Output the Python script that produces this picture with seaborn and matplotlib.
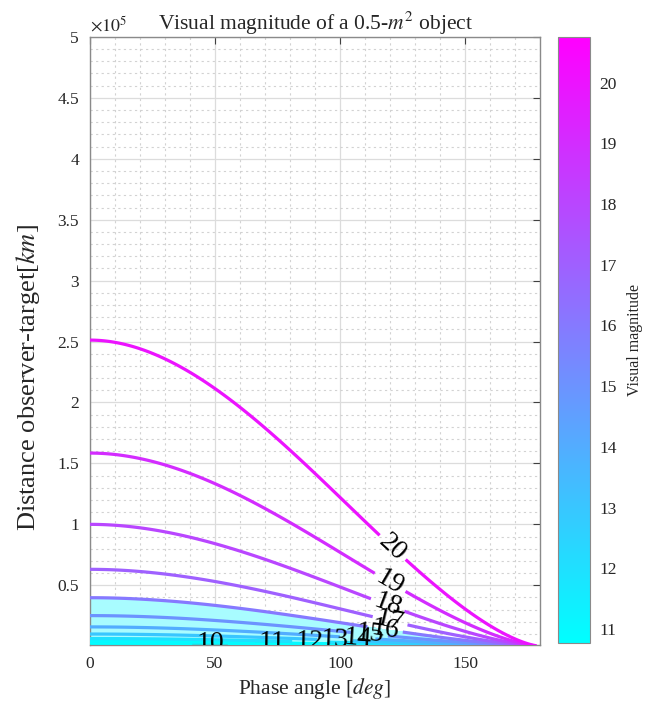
import numpy as np
import matplotlib
matplotlib.use("Agg")
import matplotlib.pyplot as plt
import matplotlib.ticker as mticker
from matplotlib.colors import Normalize
from matplotlib.cm import ScalarMappable
import seaborn as sns

# ---------------- data ----------------
contour_levels = [10, 11, 12, 13, 14, 15, 16, 17, 18, 19, 20]
label_phase_deg = [48, 73, 88, 98, 107, 112, 118, 120, 119, 120, 121]
ref_magnitude = 18.0          # magnitude at zero phase ...
ref_distance_km = 1.0e5       # ... at this distance
fill_levels = [12, 16]
color_limits = [10.77, 20.75]
colorbar_ticks = [11, 12, 13, 14, 15, 16, 17, 18, 19, 20]
y_ticks = [0.5e5, 1e5, 1.5e5, 2e5, 2.5e5, 3e5, 3.5e5, 4e5, 4.5e5, 5e5]
x_ticks = [0, 50, 100, 150]

# ---------------- style ----------------
sns.set_style("white")
plt.rcParams["font.family"] = ["Liberation Serif", "DejaVu Serif"]
plt.rcParams["mathtext.fontset"] = "stix"

cmap = sns.color_palette("cool", as_cmap=True)
norm = Normalize(vmin=color_limits[0], vmax=color_limits[1])


def lambert_phase(alpha_deg):
    a = np.radians(alpha_deg)
    return np.clip(((np.pi - a) * np.cos(a) + np.sin(a)) / np.pi, 1e-14, None)


def magnitude(alpha_deg, dist_km):
    return ref_magnitude + 5 * np.log10(dist_km / ref_distance_km) - 2.5 * np.log10(lambert_phase(alpha_deg))


def distance_for(level, alpha_deg):
    return ref_distance_km * 10 ** ((level - ref_magnitude + 2.5 * np.log10(lambert_phase(alpha_deg))) / 5)


phase = np.linspace(0, 180, 721)
dist = np.geomspace(300, 5e5, 1500)
P, D = np.meshgrid(phase, dist)
Z = magnitude(P, D)

fig = plt.figure(figsize=(6.59, 7.03), dpi=100)
ax = fig.add_axes([0.1366, 0.0825, 0.683, 0.865])
cax = fig.add_axes([0.8467, 0.0853, 0.0486, 0.862])

ax.set_xlim(0, 180)
ax.set_ylim(1000, 5e5)

# fill (light cyan region of the densely packed low-magnitude contours)
ax.contourf(P, D, Z, levels=[Z.min(), fill_levels[0], fill_levels[1]],
            colors=["#12e8f2", "#a8fcff"], zorder=1)

cs = ax.contour(P, D, Z, levels=contour_levels, cmap=cmap, norm=norm,
                linewidths=2.3, zorder=3)
label_positions = [(ph, distance_for(lvl, ph)) for lvl, ph in zip(contour_levels, label_phase_deg)]
ax.clabel(cs, inline=True, inline_spacing=4, fontsize=20, fmt="%d",
          colors="k", manual=label_positions)

ax.set_xlim(0, 180)
ax.set_ylim(1000, 5e5)
ax.set_xticks(x_ticks)
ax.set_yticks(y_ticks)
ax.yaxis.set_major_formatter(mticker.FuncFormatter(lambda v, p: f"{v / 1e5:g}"))
ax.xaxis.set_minor_locator(mticker.MultipleLocator(10))
ax.yaxis.set_minor_locator(mticker.MultipleLocator(1e4))
ax.grid(True, which="major", color="#dcdcdc", linewidth=0.9, linestyle="-", zorder=0)
ax.grid(True, which="minor", color="#d2d2d2", linewidth=0.8, linestyle=(0, (2, 3)), zorder=0)
ax.set_axisbelow(True)
ax.tick_params(which="major", direction="in", length=5, color="#404040",
               top=True, right=True, labelsize=12.5, labelcolor="#262626", pad=8)
ax.tick_params(which="minor", length=0)
for s in ax.spines.values():
    s.set_color("#8a8a8a")
    s.set_linewidth(1.0)

ax.text(0.0, 1.002, r"$\times10^5$", transform=ax.transAxes, fontsize=13,
        color="#262626", ha="left", va="bottom")
ax.set_title(r"Visual magnitude of a 0.5-$m^2$ object", fontsize=15.5, pad=5)
ax.set_xlabel(r"Phase angle [$deg$]", fontsize=15.5, labelpad=3)
ax.set_ylabel(r"Distance observer-target[$km$]", fontsize=19)
ax.yaxis.set_label_coords(-0.106, 0.44)

cb = fig.colorbar(ScalarMappable(norm=norm, cmap=cmap), cax=cax, ticks=colorbar_ticks)
cb.outline.set_edgecolor("#8a8a8a")
cb.ax.tick_params(direction="in", length=5, color="#404040", labelsize=12.5,
                  labelcolor="#262626", pad=7)
cb.set_label("Visual magnitude", fontsize=11.5, labelpad=7)

fig.savefig("out.png", dpi=100)
